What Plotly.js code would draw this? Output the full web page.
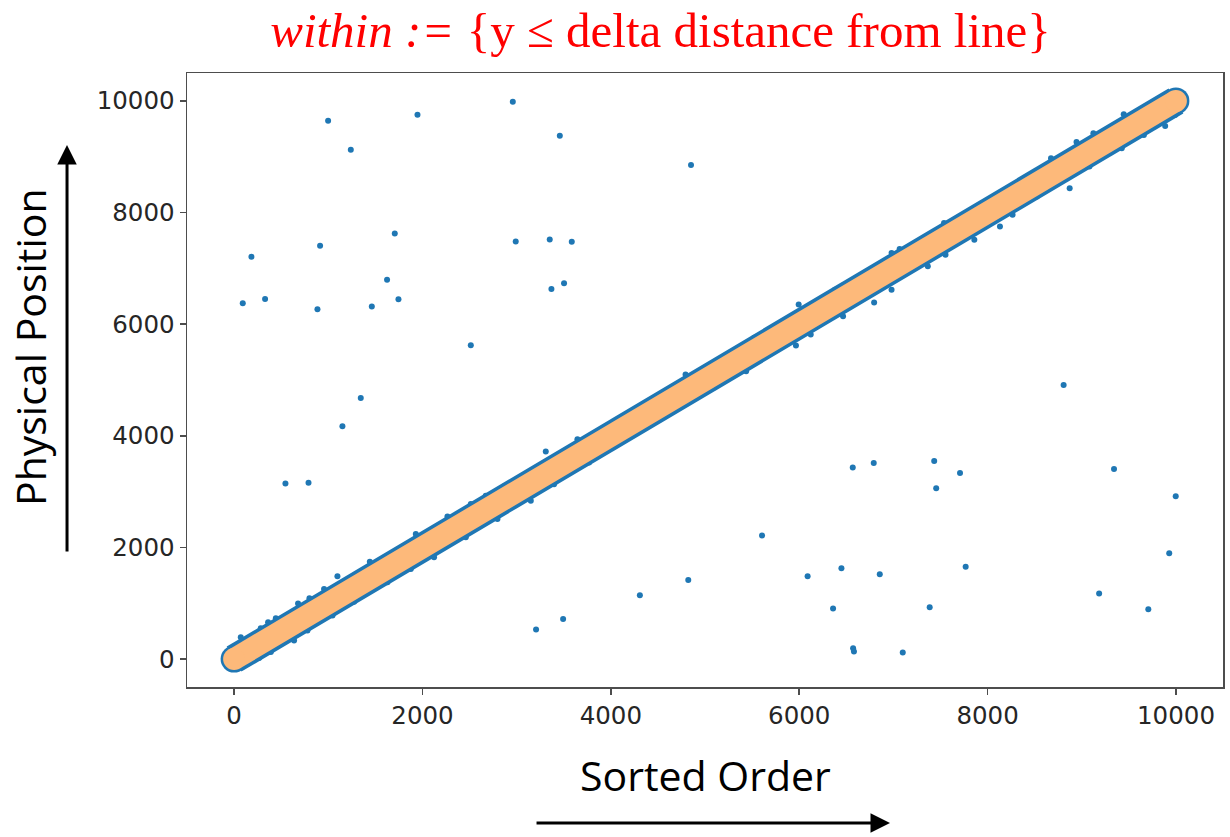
<!DOCTYPE html>
<html>
<head>
<meta charset="utf-8">
<script src="https://cdn.plot.ly/plotly-3.0.1.min.js"></script>
<style>
  html, body { margin: 0; padding: 0; background: #ffffff; }
  #chart { width: 1230px; height: 837px; }
</style>
</head>
<body>
<div id="chart"></div>
<script>
// Ends of the sorted-order / physical-position diagonal
const lineX = [0, 9999];
const lineY = [0, 9999];

// Keys that lie far from the diagonal
const outlierX = [998, 1239, 1947, 2959, 3458, 184, 92, 329, 913, 885, 1706, 1624, 1745, 1462, 2513,
  2990, 3351, 3585, 3369, 3503, 4851, 1345, 1150, 545, 790, 3206, 3493,
  8807, 6568, 6791, 7433, 7707, 7454, 9342, 9997, 5605, 4308, 4822, 6089, 6448, 6855, 7767,
  6359, 7385, 6572, 6581, 7099, 9184, 9706, 9928];
const outlierY = [9645, 9126, 9752, 9984, 9376, 7208, 6374, 6452, 7405, 6267, 7625, 6797, 6445, 6315, 5623,
  7482, 7518, 7476, 6631, 6731, 8850, 4676, 4170, 3146, 3157, 530, 720,
  4908, 3431, 3514, 3550, 3335, 3062, 3407, 2919, 2216, 1144, 1417, 1483, 1626, 1519, 1655,
  904, 929, 196, 136, 118, 1173, 894, 1895];

// Keys just outside the delta band (above and below it)
const edgeX = [1097, 3309, 8871, 8944, 6795, 5965, 8131, 7553, 9885, 9445,
  71, 283, 361, 443, 679, 800, 955, 1441, 1929, 2265, 2513, 2672, 2866, 3645,
  265, 390, 637, 779, 1045, 1274, 1628, 1876, 2123, 2460, 2796, 3150, 3397, 3769,
  4793, 5522, 5994, 6379, 6980, 7066, 7537, 7945, 8395, 8673, 9123, 9852,
  5436, 6122, 6465, 6980, 7365, 7859, 8265, 8523, 9081, 9424, 9659, 9990];
const edgeY = [1483, 3717, 8436, 9264, 6386, 5617, 7750, 7244, 9550, 9759,
  392, 554, 661, 733, 994, 1090, 1256, 1744, 2240, 2556, 2776, 2924, 3092, 3937,
  18, 125, 333, 511, 779, 1029, 1376, 1614, 1823, 2181, 2508, 2835, 3133, 3521,
  5099, 5755, 6350, 6618, 7274, 7346, 7811, 8107, 8615, 8972, 9419, 9990,
  5158, 5814, 6141, 6618, 7035, 7512, 7959, 8286, 8822, 9151, 9389, 9746];

const tickVals = [0, 2000, 4000, 6000, 8000, 10000];

const blue = '#1f77b4';
const orange = '#fdb97a';

const traces = [
  { // all keys packed along the diagonal
    x: lineX, y: lineY, mode: 'lines+markers', type: 'scatter',
    line: { color: blue, width: 29 },
    marker: { color: blue, size: 27 },
    hoverinfo: 'skip'
  },
  {
    x: outlierX.concat(edgeX), y: outlierY.concat(edgeY), mode: 'markers', type: 'scatter',
    marker: { color: blue, size: 6 }
  },
  { // keys within delta of the line
    x: lineX, y: lineY, mode: 'lines+markers', type: 'scatter',
    line: { color: orange, width: 22 },
    marker: { color: orange, size: 22 },
    hoverinfo: 'skip'
  }
];

const axisCommon = {
  range: [-500, 10499],
  tickvals: tickVals,
  ticktext: tickVals.map(String),
  showgrid: false,
  zeroline: false,
  showline: true,
  mirror: true,
  linecolor: '#4d4d4d',
  linewidth: 1.5,
  ticks: 'outside',
  ticklen: 6,
  tickwidth: 1.5,
  tickcolor: '#4d4d4d',
  tickfont: { family: 'DejaVu Sans', size: 24.5, color: '#262626' }
};

const layout = {
  width: 1230,
  height: 837,
  margin: { l: 187, r: 7, t: 73, b: 150 },
  paper_bgcolor: '#ffffff',
  plot_bgcolor: '#ffffff',
  showlegend: false,
  title: {
    text: '<i>within :=</i> {y ≤ delta distance from line}',
    font: { family: 'Liberation Serif', size: 49, color: '#ff0000' },
    x: 0.537, xanchor: 'center',
    y: 0.964, yanchor: 'middle'
  },
  xaxis: Object.assign({}, axisCommon),
  yaxis: Object.assign({}, axisCommon),
  annotations: [
    {
      xref: 'paper', yref: 'paper', x: -0.151, y: 0.553,
      text: 'Physical Position', showarrow: false, textangle: -90,
      font: { family: 'Open Sans', size: 41, color: '#000000' },
      xanchor: 'center', yanchor: 'middle'
    },
    {
      xref: 'paper', yref: 'paper', x: 0.5, y: -0.144,
      text: 'Sorted Order', showarrow: false,
      font: { family: 'Open Sans', size: 41, color: '#000000' },
      xanchor: 'center', yanchor: 'middle'
    },
    { // upward arrow beside the y title
      xref: 'paper', yref: 'paper', x: -0.1158, y: 0.8827,
      text: '', showarrow: true, axref: 'pixel', ayref: 'pixel', ax: 0, ay: 408,
      arrowhead: 2, arrowsize: 1.3, arrowwidth: 3, arrowcolor: '#000000'
    },
    { // rightward arrow under the x title
      xref: 'paper', yref: 'paper', x: 0.6786, y: -0.2215,
      text: '', showarrow: true, axref: 'pixel', ayref: 'pixel', ax: -355, ay: 0,
      arrowhead: 2, arrowsize: 1.3, arrowwidth: 3, arrowcolor: '#000000'
    }
  ]
};

Plotly.newPlot('chart', traces, layout, { displayModeBar: false, staticPlot: true });
</script>
</body>
</html>
